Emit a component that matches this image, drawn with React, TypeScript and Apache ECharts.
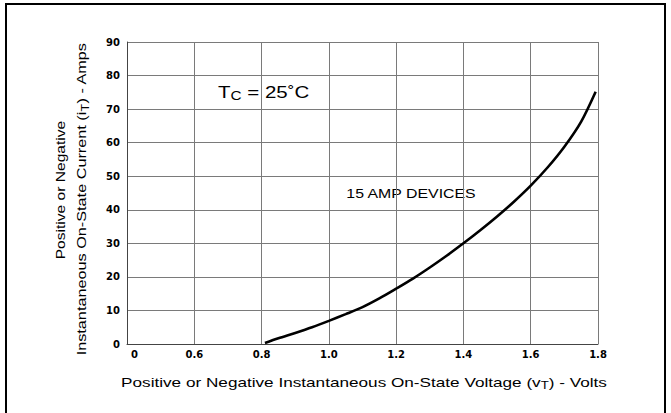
import React, { useEffect, useRef } from "react";
import * as echarts from "echarts";

const voltage = [
  0.81, 0.85, 0.9, 0.95, 1.0, 1.05, 1.1, 1.15, 1.2, 1.25, 1.3, 1.35, 1.4, 1.45,
  1.5, 1.55, 1.6, 1.65, 1.7, 1.75, 1.793,
];
const current = [
  0.3, 1.7, 3.3, 5.0, 6.9, 8.9, 11.0, 13.6, 16.5, 19.5, 22.8, 26.3, 30.0, 33.9,
  38.0, 42.4, 47.2, 52.6, 58.8, 66.3, 75.2,
];

const xTickMin = 0.4;
const xTickMax = 1.8;
const yTickMin = 0;
const yTickMax = 90;

const xAxisTitle = "Positive or Negative Instantaneous On-State Voltage (v{s|T}) - Volts";
const yAxisTitle1 = "Positive or Negative";
const yAxisTitle2 = "Instantaneous On-State Current (i{s|T}) - Amps";
const noteTemp = "T{s|C} = 25˚C";
const noteDevice = "15 AMP DEVICES";

const FONT = "'Liberation Sans', Arial, sans-serif";
const TICKFONT = "'DejaVu Sans', sans-serif";

export default function App() {
  const ref = useRef<HTMLDivElement>(null);
  useEffect(() => {
    if (!ref.current) return;
    const chart = echarts.init(ref.current, null, { renderer: "svg" });
    const subStyle = (size: number, pad: number) => ({
      fontSize: size,
      fontFamily: FONT,
      fill: "#000",
      padding: [pad, 0, 0, 0],
    });
    chart.setOption({
      animation: false,
      backgroundColor: "#fff",
      grid: { left: 127, right: 73, top: 42, bottom: 69 },
      xAxis: {
        type: "value",
        min: xTickMin,
        max: xTickMax,
        interval: 0.2,
        axisLine: { show: true, onZero: false, lineStyle: { color: "#444", width: 1 } },
        axisTick: { show: false },
        splitLine: { show: true, lineStyle: { color: "#7a7a7a", width: 1 } },
        axisLabel: {
          color: "#000",
          fontFamily: TICKFONT,
          fontWeight: "bold",
          fontSize: 10,
          margin: 5,
          showMinLabel: true,
          showMaxLabel: true,
          formatter: (v: number) =>
            Math.abs(v - xTickMin) < 1e-6 ? "{z|0}" : v.toFixed(1),
          rich: {
            z: {
              fontFamily: TICKFONT,
              fontWeight: "bold",
              fontSize: 10,
              color: "#000",
              padding: [0, 0, 0, 15],
            },
          },
        },
      },
      yAxis: {
        type: "value",
        min: yTickMin,
        max: yTickMax,
        interval: 10,
        axisLine: { show: true, lineStyle: { color: "#444", width: 1 } },
        axisTick: { show: false },
        splitLine: { show: true, lineStyle: { color: "#7a7a7a", width: 1 } },
        axisLabel: {
          color: "#000",
          fontFamily: TICKFONT,
          fontWeight: "bold",
          fontSize: 10,
          margin: 7,
        },
      },
      series: [
        {
          type: "line",
          data: voltage.map((v, i) => [v, current[i]]),
          smooth: 0.3,
          symbol: "none",
          lineStyle: { color: "#000", width: 2.6 },
          z: 5,
        },
      ],
      graphic: [
        {
          type: "rect",
          shape: { x: 6, y: 4, width: 659, height: 430 },
          style: { fill: "none", stroke: "#000", lineWidth: 2 },
          silent: true,
        },
        {
          type: "text",
          x: 364,
          y: 382,
          scaleX: 1.32,
          style: {
            text: xAxisTitle,
            fontSize: 13,
            fontFamily: FONT,
            fill: "#000",
            align: "center",
            verticalAlign: "middle",
            rich: { s: subStyle(10, 7) },
          },
        },
        {
          type: "text",
          x: 60,
          y: 190,
          rotation: Math.PI / 2,
          scaleX: 1.2,
          style: {
            text: yAxisTitle1,
            fontSize: 13,
            fontFamily: FONT,
            fill: "#000",
            align: "center",
            verticalAlign: "middle",
          },
        },
        {
          type: "text",
          x: 82,
          y: 199,
          rotation: Math.PI / 2,
          scaleX: 1.25,
          style: {
            text: yAxisTitle2,
            fontSize: 13,
            fontFamily: FONT,
            fill: "#000",
            align: "center",
            verticalAlign: "middle",
            rich: { s: subStyle(10, 7) },
          },
        },
        {
          type: "text",
          x: 218,
          y: 92,
          scaleX: 1.28,
          style: {
            text: noteTemp,
            fontSize: 16,
            fontFamily: FONT,
            fill: "#000",
            align: "left",
            verticalAlign: "middle",
            rich: { s: subStyle(12, 8) },
          },
        },
        {
          type: "text",
          x: 411,
          y: 194,
          scaleX: 1.22,
          style: {
            text: noteDevice,
            fontSize: 13,
            fontFamily: FONT,
            fill: "#000",
            align: "center",
            verticalAlign: "middle",
          },
        },
      ],
    });
    return () => chart.dispose();
  }, []);
  return (
    <div
      ref={ref}
      style={{ position: "absolute", left: 0, top: 0, width: 671, height: 413 }}
    />
  );
}
